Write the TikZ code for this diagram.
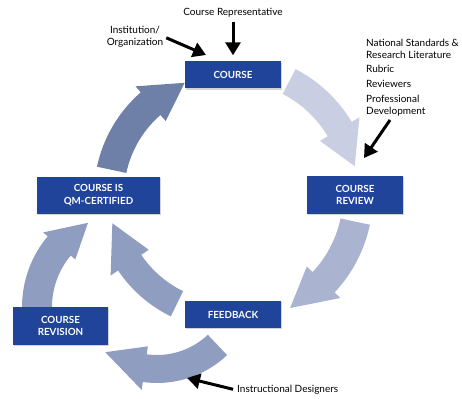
\documentclass[tikz,border=0pt]{standalone}
\usepackage{fontspec}
\setmainfont{Lato}
\usepackage{tikz}
\usetikzlibrary{arrows.meta,positioning,calc,shadows}

\definecolor{boxblue}{HTML}{1F449A}
\definecolor{arrowdark}{HTML}{6F80A8}
\definecolor{arrowmid}{HTML}{8F9DC0}
\definecolor{arrowsoft}{HTML}{AAB4D0}
\definecolor{arrowpale}{HTML}{C9CEE2}

% curved block arrow: centre, radius, half width, head half width,
% start angle, head base angle, tip angle, colour
\newcommand{\bendarrow}[8]{%
  \pgfmathsetmacro{\rin}{#2-#3}\pgfmathsetmacro{\rout}{#2+#3}%
  \pgfmathsetmacro{\hin}{#2-#4}\pgfmathsetmacro{\hout}{#2+#4}%
  \fill[#8] ($(#1)+({#5}:{\rin})$) arc[start angle=#5, end angle=#6, radius=\rin]
    -- ($(#1)+({#6}:{\hin})$) -- ($(#1)+({#7}:{#2})$) -- ($(#1)+({#6}:{\hout})$)
    -- ($(#1)+({#6}:{\rout})$) arc[start angle=#6, end angle=#5, radius=\rout] -- cycle;}

\begin{document}
\begin{tikzpicture}[x=1pt,y=1pt,auto,
	box/.style={rectangle, fill=boxblue, text=white, align=center, inner sep=0pt,
		font=\bfseries\fontsize{9.8}{12.8}\selectfont,
		drop shadow={shadow xshift=1.2pt, shadow yshift=-1.2pt, opacity=0.35}},
	lbl/.style={font=\fontsize{10}{11.7}\selectfont, inner sep=1pt},
	ptr/.style={line width=3pt, -{Triangle[width=15pt,length=13pt]}}]
	\useasboundingbox (0,0) rectangle (462,-398);

	\coordinate (hub) at (230,-195);
	\coordinate (lefthub) at (132,-307);
	\coordinate (lowhub) at (157,-281);

	% cycle arrows
	\bendarrow{hub}{121}{15}{23}{168}{131}{112}{arrowdark}
	\bendarrow{hub}{128}{14}{23}{62.5}{31}{13}{arrowpale}
	\bendarrow{hub}{128}{15}{23}{-12}{-43}{-62}{arrowsoft}
	\bendarrow{hub}{121}{14}{23}{-116}{-146}{-166.5}{arrowmid}
	\bendarrow{lefthub}{95}{15}{21}{180}{140}{117.6}{arrowmid}
	\bendarrow{lowhub}{88}{14}{22}{-46.6}{-98}{-126}{arrowmid}

	\node (course) [box, minimum width=96, minimum height=27] at (233,-75) {COURSE};
	\node (review) [box, minimum width=96, minimum height=38] at (355,-195) {COURSE\\REVIEW};
	\node (certified) [box, minimum width=123, minimum height=37] at (98.5,-195.5) {COURSE IS\\QM-CERTIFIED};
	\node (feedback) [box, minimum width=96, minimum height=27] at (233,-314.5) {FEEDBACK};
	\node (revision) [box, minimum width=95, minimum height=38] at (60.5,-326) {COURSE\\REVISION};

	\node (rep) [lbl] at (233,-13) {Course Representative};
	\node (inst) [lbl, align=center] at (135,-37) {Institution/\\Organization};
	\node (res) [lbl, align=left, anchor=north west] at (365,-38)
		{National Standards \&\\Research Literature\\[3pt]Rubric\\[3pt]Reviewers\\[3pt]Professional\\Development};
	\node (ides) [lbl, anchor=west] at (236,-390) {Instructional Designers};

	\coordinate (instend) at (206,-55);
	\coordinate (resstart) at (390,-120);
	\coordinate (resend) at (364,-158);
	\coordinate (idesend) at (187,-378);

	\path[ptr] (rep) edge[shorten <=3pt, shorten >=6pt] (course);
	\path[ptr] (inst.east) edge[shorten <=2pt] (instend);
	\path[ptr] (resstart) edge (resend);
	\path[ptr] (ides.west) edge[shorten <=3pt] (idesend);
\end{tikzpicture}
\end{document}
